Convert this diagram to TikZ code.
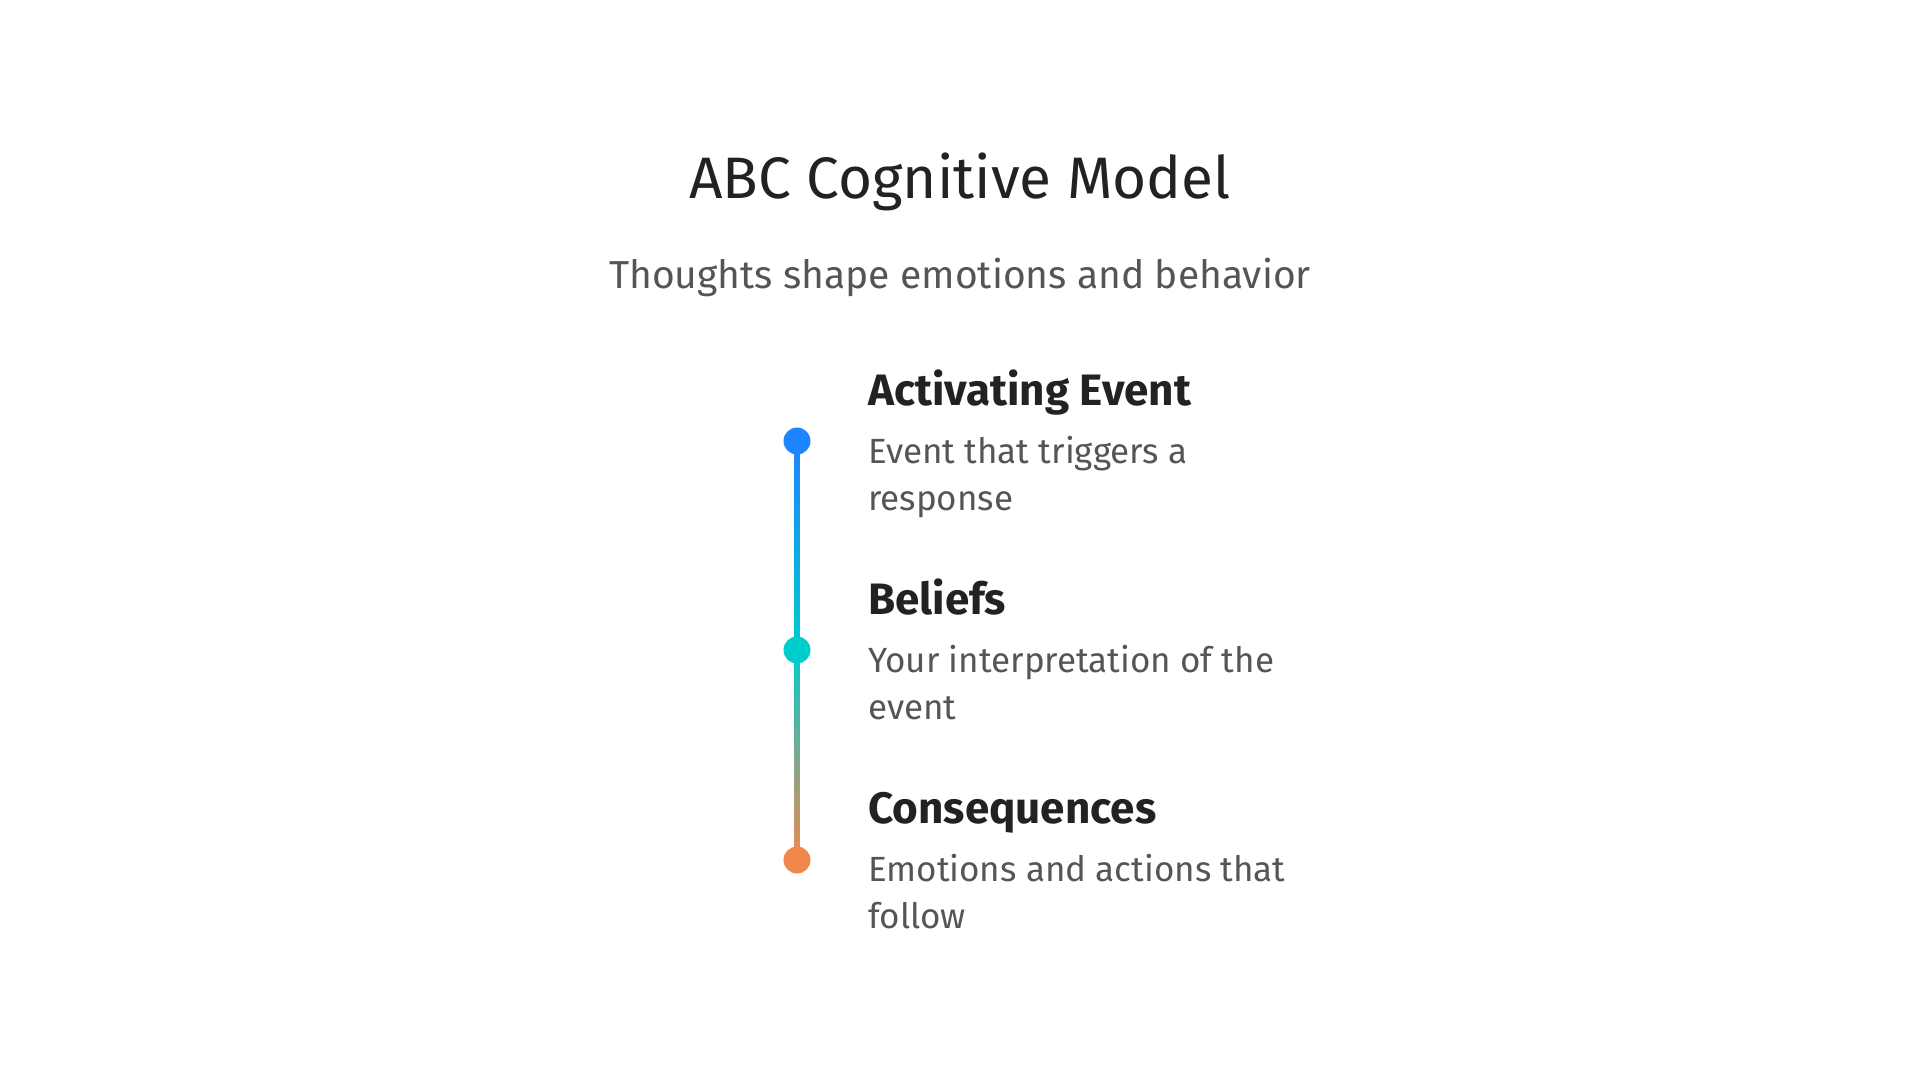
\documentclass[tikz,border=0pt]{standalone}
\usepackage{fontspec}
\setmainfont{Fira Sans}
\usetikzlibrary{positioning,backgrounds}

\definecolor{darkgray}{HTML}{222222}
\definecolor{midgray}{HTML}{555555}
\definecolor{stepblue}{HTML}{1E84FF}
\definecolor{stepteal}{HTML}{00CCCC}
\definecolor{steporange}{HTML}{F0884E}

\begin{document}
\begin{tikzpicture}[x=1pt, y=-1pt,
		dot/.style={circle, inner sep=0pt, minimum size=27pt},
		heading/.style={anchor=base west, inner sep=0pt, text=darkgray,
			font=\fontsize{44}{52}\selectfont\bfseries},
		desc/.style={anchor=base west, inner sep=0pt, text=midgray, align=left,
			font=\fontsize{35}{47}\selectfont}]
		\useasboundingbox (0, 0) rectangle (1920, 1080);

		\node[anchor=base, inner sep=0pt, text=darkgray, font=\fontsize{58.5}{70}\selectfont] (title) at (960, 198) {ABC Cognitive Model};
		\node[anchor=base, inner sep=0pt, text=midgray, font=\fontsize{39}{47}\selectfont] (subtitle) at (960, 288) {Thoughts shape emotions and behavior};

		\node[dot, fill=stepblue] (a) at (797, 441) {};
		\node[dot, fill=stepteal] (b) at (797, 650) {};
		\node[dot, fill=steporange] (c) at (797, 860) {};

		\begin{pgfonlayer}{background}
			\shade[top color=stepblue, bottom color=stepteal] ([xshift=-2.5pt]a.center) rectangle ([xshift=2.5pt]b.center);
			\shade[top color=stepteal, bottom color=steporange] ([xshift=-2.5pt]b.center) rectangle ([xshift=2.5pt]c.center);
		\end{pgfonlayer}

		% descriptions are anchored on the baseline of their last line
		\node[heading] (aTitle) at (868, 405) {Activating Event};
		\node[desc] (aText) at (868, 510) {Event that triggers a\\response};

		\node[heading] (bTitle) at (868, 614) {Beliefs};
		\node[desc] (bText) at (868, 719) {Your interpretation of the\\event};

		\node[heading] (cTitle) at (868, 823) {Consequences};
		\node[desc] (cText) at (868, 928) {Emotions and actions that\\follow};
	\end{tikzpicture}
\end{document}
